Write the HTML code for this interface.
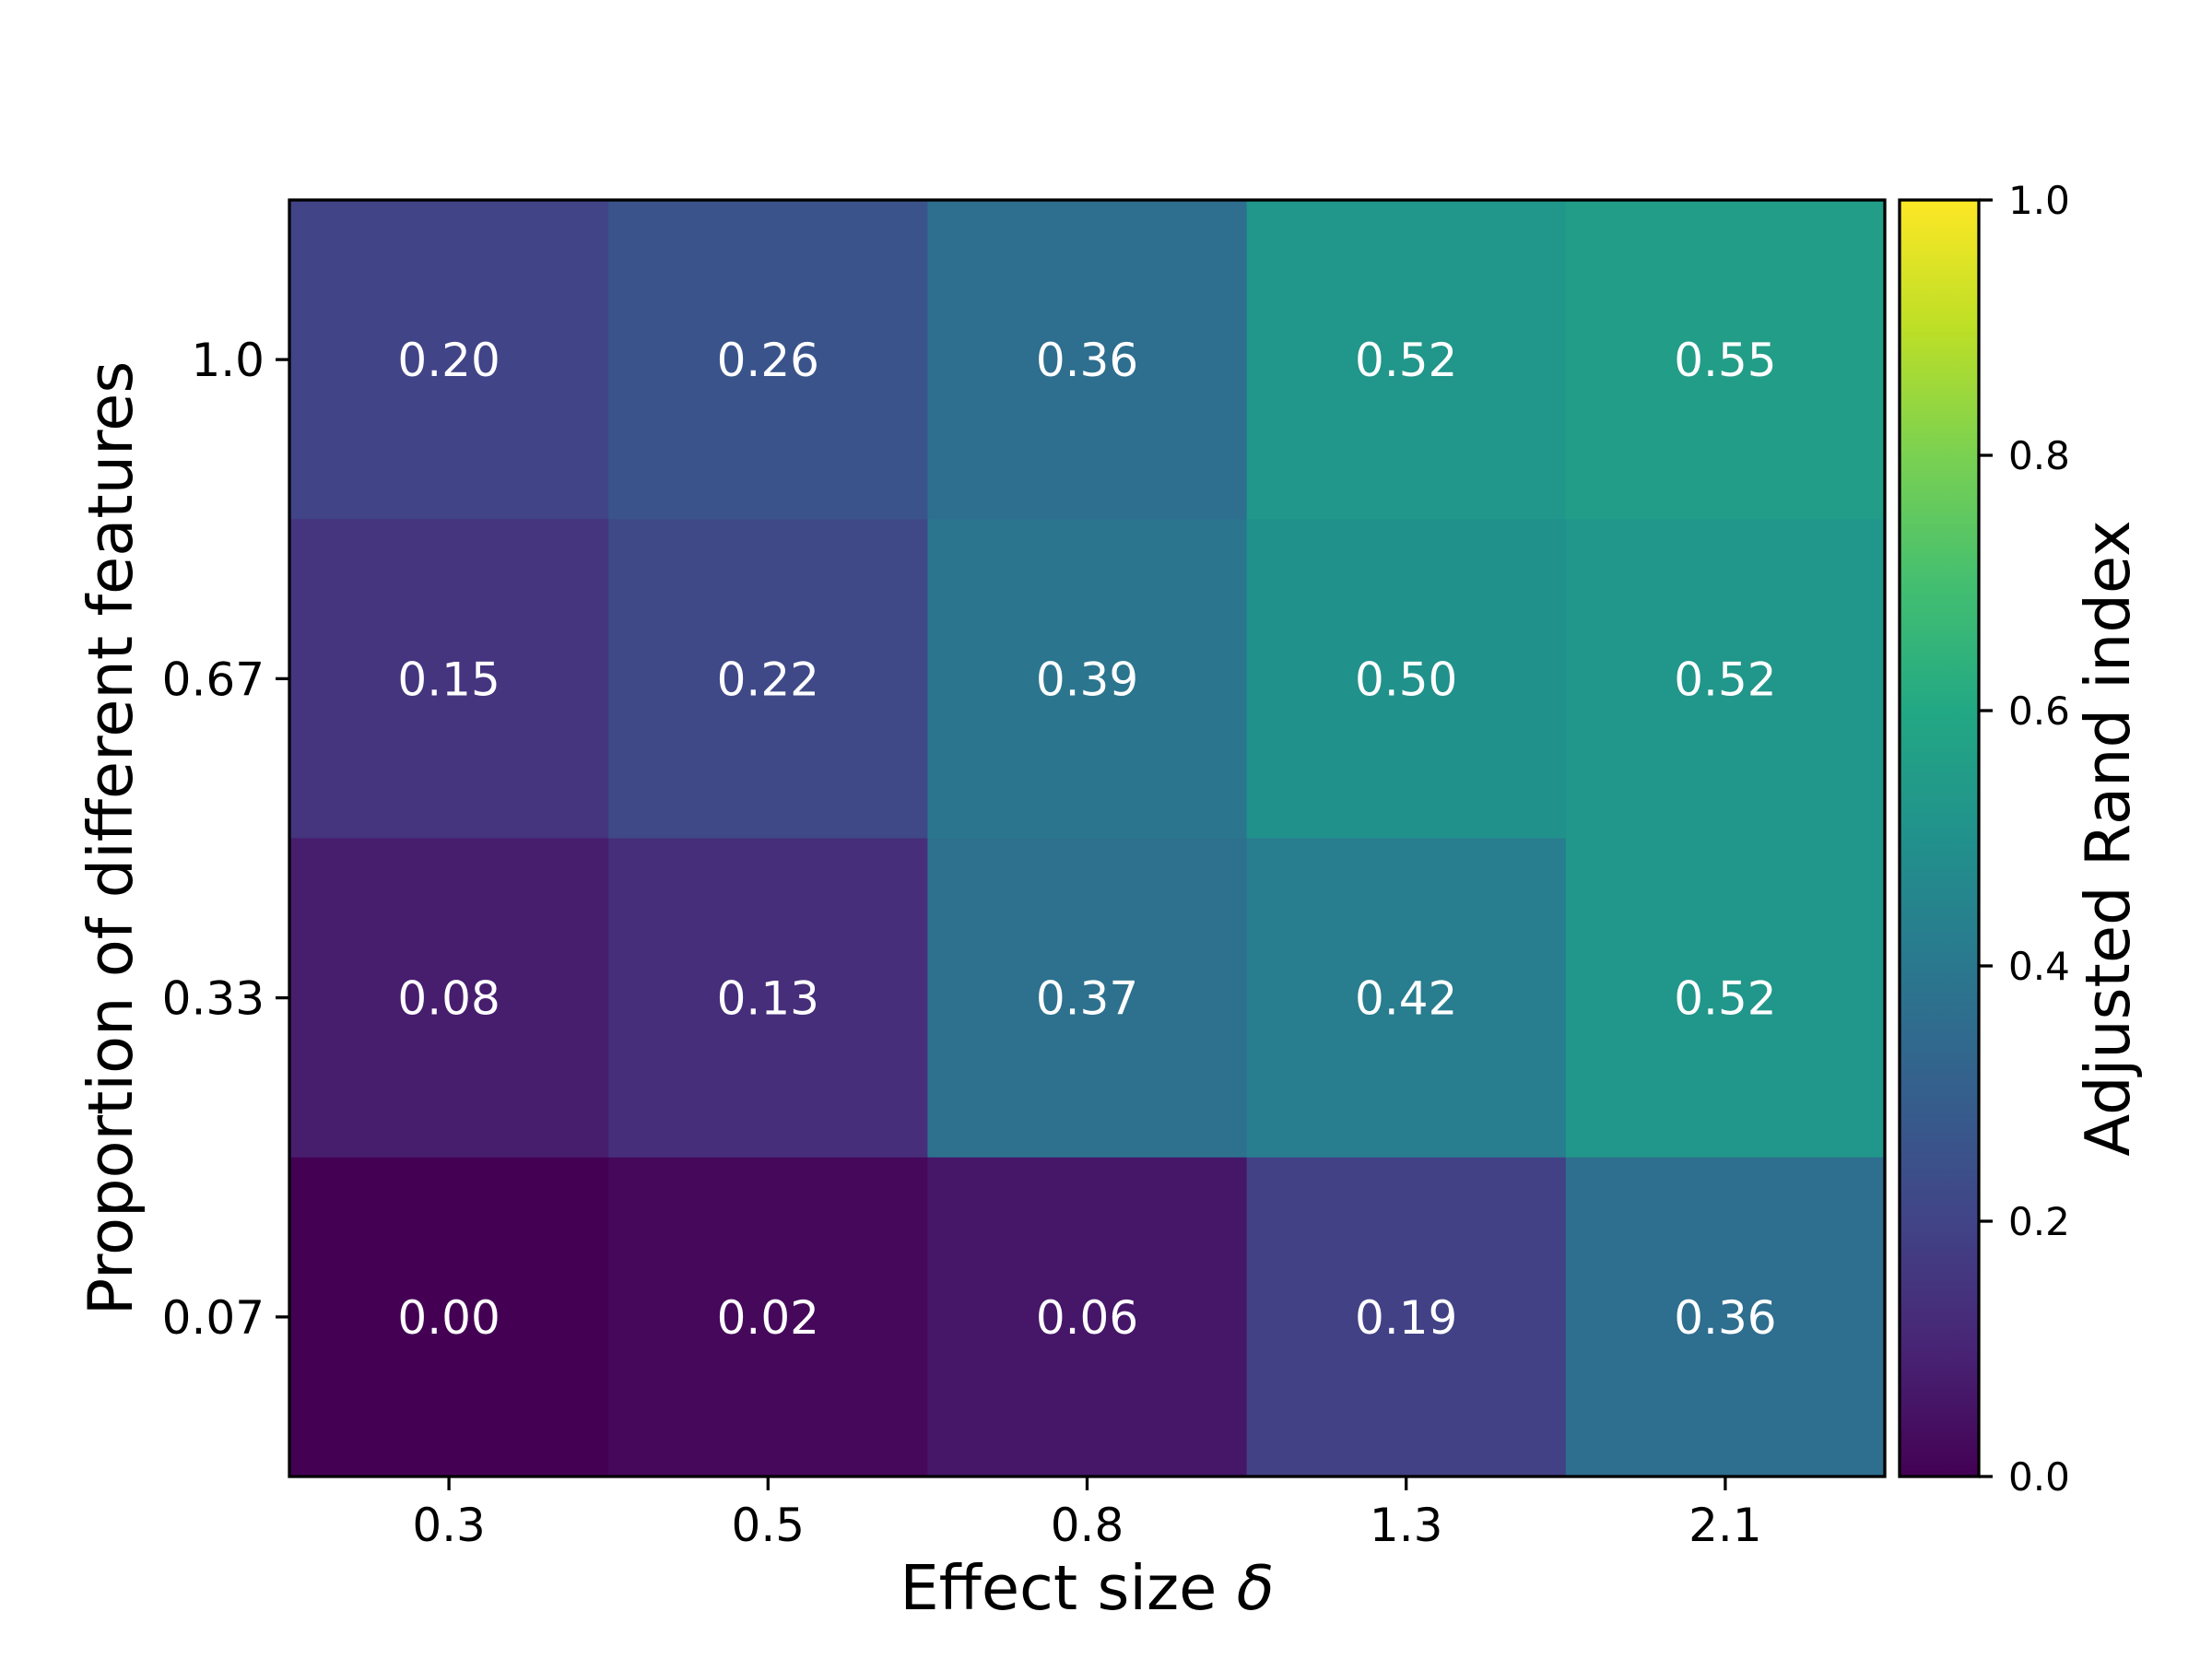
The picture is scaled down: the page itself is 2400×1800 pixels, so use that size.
<!DOCTYPE html>
<html><head><meta charset="utf-8"><style>
html,body{margin:0;padding:0;background:#fff;}
svg{display:block;font-family:"DejaVu Sans","Liberation Sans",sans-serif;}
</style></head><body>
<svg id="chart" width="2400" height="1800" viewBox="0 0 2400 1800" xmlns="http://www.w3.org/2000/svg">
<defs>
<linearGradient id="vir" x1="0" y1="1" x2="0" y2="0">
<stop offset="0" stop-color="#440154"/><stop offset="0.1" stop-color="#482475"/><stop offset="0.2" stop-color="#414487"/><stop offset="0.3" stop-color="#355f8d"/><stop offset="0.4" stop-color="#2a788e"/><stop offset="0.5" stop-color="#21918c"/><stop offset="0.6" stop-color="#22a884"/><stop offset="0.7" stop-color="#44bf70"/><stop offset="0.8" stop-color="#7ad151"/><stop offset="0.9" stop-color="#bddf26"/><stop offset="1" stop-color="#fde725"/>
</linearGradient>
</defs>
<g id="cells"></g>
<g id="axes"></g>
</svg>
<script>
const xCategories = ["0.3","0.5","0.8","1.3","2.1"];
const yCategories = ["1.0","0.67","0.33","0.07"];
const row1 = [0.20,0.26,0.36,0.52,0.55];
const row067 = [0.15,0.22,0.39,0.50,0.52];
const row033 = [0.08,0.13,0.37,0.42,0.52];
const row007 = [0.00,0.02,0.06,0.19,0.36];
const values = [row1,row067,row033,row007];
const cbTicks = [0.0,0.2,0.4,0.6,0.8,1.0];
const cbTickLabels = ["0.0","0.2","0.4","0.6","0.8","1.0"];

const NS="http://www.w3.org/2000/svg";
const L=314,R=2045,T=217,B=1602;
const cw=(R-L)/xCategories.length, ch=(B-T)/yCategories.length;
const xPos=i=>L+cw*i;
const yPos=j=>T+ch*j;
const CB={x0:2061,x1:2147};
const cbY=v=>B-(B-T)*v;
const stops=["#440154","#482475","#414487","#355f8d","#2a788e","#21918c","#22a884","#44bf70","#7ad151","#bddf26","#fde725"];
function hex(h){return [1,3,5].map(k=>parseInt(h.substr(k,2),16));}
function viridis(v){v=Math.max(0,Math.min(1,v));const p=v*10,i=Math.min(9,Math.floor(p)),f=p-i;const a=hex(stops[i]),b=hex(stops[i+1]);return "rgb("+a.map((c,k)=>Math.round(c+(b[k]-c)*f)).join(",")+")";}
function mk(tag,attrs,parent,txt){const e=document.createElementNS(NS,tag);for(const k in attrs)e.setAttribute(k,attrs[k]);if(txt!==undefined)e.textContent=txt;parent.appendChild(e);return e;}
const cells=document.getElementById('cells'),axes=document.getElementById('axes');
values.forEach((row,j)=>row.forEach((v,i)=>{
 const r=mk('rect',{x:xPos(i),y:yPos(j),width:cw+0.5,height:ch+0.5,fill:viridis(v)},cells);
 
 
 const t=mk('text',{x:xPos(i)+cw/2,y:yPos(j)+ch/2+18,'text-anchor':'middle','font-size':'50',fill:'#fff'},cells,v.toFixed(2));
 
 
}));
const frame=mk('rect',{x:L,y:T,width:R-L,height:B-T,fill:'none',stroke:'#000','stroke-width':3.3},axes);


xCategories.forEach((c,i)=>{
 const x=xPos(i)+cw/2;
 const tk=mk('line',{x1:x,y1:B,x2:x,y2:B+15,stroke:'#000','stroke-width':3.3},axes);
 
 
 const t=mk('text',{x:x,y:B+70,'text-anchor':'middle','font-size':'50'},axes,c);
 
 
});
yCategories.forEach((c,j)=>{
 const y=yPos(j)+ch/2;
 const tk=mk('line',{x1:L,y1:y,x2:L-15,y2:y,stroke:'#000','stroke-width':3.3},axes);
 
 
 const t=mk('text',{x:L-27,y:y+18,'text-anchor':'end','font-size':'50'},axes,c);
 
 
});
const xl=mk('text',{x:(L+R)/2,y:1746,'text-anchor':'middle','font-size':'67'},axes);


xl.innerHTML='Effect size <tspan font-style="italic">δ</tspan>';
const yl=mk('text',{x:0,y:0,'text-anchor':'middle','font-size':'67',transform:'translate(143,'+((T+B)/2)+') rotate(-90)'},axes,'Proportion of different features');


const cb=mk('rect',{x:CB.x0,y:T,width:CB.x1-CB.x0,height:B-T,fill:'url(#vir)',stroke:'#000','stroke-width':3.3},axes);


cbTicks.forEach((v,k)=>{
 const y=cbY(v);
 const tk=mk('line',{x1:CB.x1,y1:y,x2:CB.x1+15,y2:y,stroke:'#000','stroke-width':3.3},axes);
 
 
 const t=mk('text',{x:CB.x1+32,y:y+15,'font-size':'42'},axes,cbTickLabels[k]);
 
 
});
const cl=mk('text',{x:0,y:0,'text-anchor':'middle','font-size':'67',transform:'translate(2310,'+((T+B)/2)+') rotate(-90)'},axes,'Adjusted Rand index');


</script>
</body></html>
